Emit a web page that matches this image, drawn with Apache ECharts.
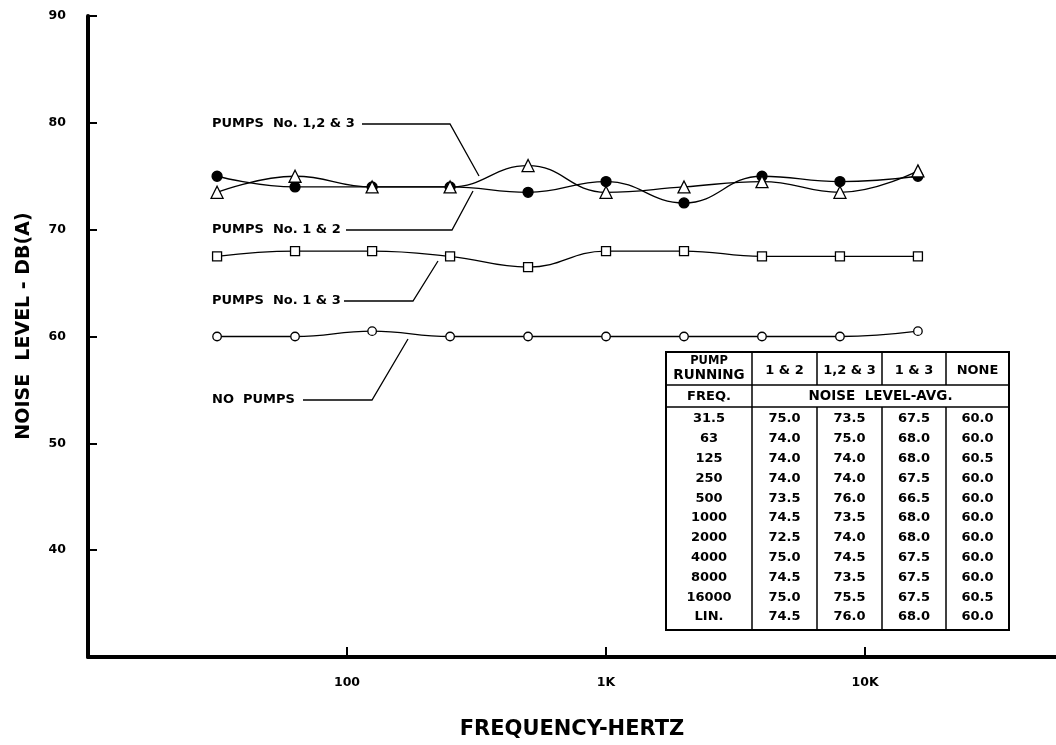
<!DOCTYPE html>
<html>
<head>
<meta charset="utf-8">
<script src="https://cdn.jsdelivr.net/npm/echarts@6/dist/echarts.min.js"></script>
<style>
  html, body { margin: 0; padding: 0; background: #fff; }
  #chart { width: 1056px; height: 745px; }
</style>
</head>
<body>
<div id="chart"></div>
<script>
// Octave band centre frequencies and the rows of the summary table
const bandLabels = ['31.5', '63', '125', '250', '500', '1000', '2000', '4000', '8000', '16000', 'LIN.'];
const bandHz = [31.5, 63, 125, 250, 500, 1000, 2000, 4000, 8000, 16000];

// Average noise level, dB(A), per band (last entry = linear / overall)
const pumps12 = [75.0, 74.0, 74.0, 74.0, 73.5, 74.5, 72.5, 75.0, 74.5, 75.0, 74.5];
const pumps123 = [73.5, 75.0, 74.0, 74.0, 76.0, 73.5, 74.0, 74.5, 73.5, 75.5, 76.0];
const pumps13 = [67.5, 68.0, 68.0, 67.5, 66.5, 68.0, 68.0, 67.5, 67.5, 67.5, 68.0];
const noPumps = [60.0, 60.0, 60.5, 60.0, 60.0, 60.0, 60.0, 60.0, 60.0, 60.5, 60.0];

// Axis ticks
const xTickValues = [100, 1000, 10000];
const xTickLabels = ['100', '1K', '10K'];
const yMin = 30, yMax = 90, yStep = 10;

// Table header text
const tableColumns = ['1 & 2', '1,2 & 3', '1 & 3', 'NONE'];

const FONT = '"DejaVu Sans", Verdana, sans-serif';

function bandPoints(values) {
  return bandHz.map((f, i) => [f, values[i]]);
}

const lineStyle = { color: '#000', width: 1.3 };
function seriesOf(name, values, symbol, size, fill) {
  return {
    name, type: 'line', smooth: 0.45, data: bandPoints(values),
    symbol, symbolSize: size, showSymbol: true,
    lineStyle,
    itemStyle: { color: fill, borderColor: '#000', borderWidth: 1.3 },
    emphasis: { disabled: true }, z: 3
  };
}

// ---- summary table drawn with graphic primitives ----
const colX = [666, 752, 817, 882, 946, 1009];
const tTop = 352, hdrBottom = 385, freqBottom = 407, tBottom = 630;
const firstRowY = 419, rowH = 19.8;
const table = [];
const ls = { stroke: '#000', lineWidth: 1.5 };
table.push({ type: 'rect', shape: { x: colX[0], y: tTop, width: colX[5] - colX[0], height: tBottom - tTop },
  style: { fill: '#fff', stroke: '#000', lineWidth: 2 }, z: 10 });
[hdrBottom, freqBottom].forEach(y => table.push({ type: 'line', shape: { x1: colX[0], y1: y, x2: colX[5], y2: y }, style: ls, z: 11 }));
for (let c = 1; c < 5; c++) {
  table.push({ type: 'line', shape: { x1: colX[c], y1: tTop, x2: colX[c], y2: hdrBottom }, style: ls, z: 11 });
  table.push({ type: 'line', shape: { x1: colX[c], y1: freqBottom, x2: colX[c], y2: tBottom }, style: ls, z: 11 });
}
table.push({ type: 'line', shape: { x1: colX[1], y1: hdrBottom, x2: colX[1], y2: freqBottom }, style: ls, z: 11 });
function cellText(text, cx, cy, size) {
  return { type: 'text', x: cx, y: cy, z: 12,
    style: { text, font: `bold ${size}px ${FONT}`, fill: '#000', align: 'center', verticalAlign: 'middle' } };
}
const mid = c => (colX[c] + colX[c + 1]) / 2;
table.push(cellText('PUMP', mid(0), 361, 11.5));
table.push(cellText('RUNNING', mid(0), 375, 13.5));
tableColumns.forEach((t, c) => table.push(cellText(t, mid(c + 1), 371, 13)));
table.push(cellText('FREQ.', mid(0), 396.5, 13));
table.push(cellText('NOISE  LEVEL-AVG.', (colX[1] + colX[5]) / 2, 396.5, 13.5));
const tableCols = [pumps12, pumps123, pumps13, noPumps];
bandLabels.forEach((lab, r) => {
  const y = firstRowY + r * rowH;
  table.push(cellText(lab, mid(0), y, 13));
  tableCols.forEach((vals, c) => table.push(cellText(vals[r].toFixed(1), mid(c + 1), y, 13)));
});

// ---- curve call-outs ----
function callout(text, tx, ty, pts) {
  return [
    { type: 'text', x: tx, y: ty, z: 12,
      style: { text, font: `bold 13px ${FONT}`, fill: '#000', verticalAlign: 'middle' } },
    { type: 'polyline', shape: { points: pts }, style: { stroke: '#000', lineWidth: 1.3, fill: null }, z: 12 }
  ];
}
const callouts = [].concat(
  callout('PUMPS  No. 1,2 & 3', 212, 124, [[362, 124], [450, 124], [479, 176]]),
  callout('PUMPS  No. 1 & 2', 212, 230, [[346, 230], [452, 230], [473, 191]]),
  callout('PUMPS  No. 1 & 3', 212, 301, [[344, 301], [413, 301], [438, 261]]),
  callout('NO  PUMPS', 212, 400, [[303, 400], [372, 400], [408, 339]])
);

// vertical axis title
const yTitle = { type: 'text', x: 24, y: 326, rotation: Math.PI / 2, z: 12,
  style: { text: 'NOISE  LEVEL - DB(A)', font: `bold 19px ${FONT}`, fill: '#000', align: 'center', verticalAlign: 'middle' } };

const chart = echarts.init(document.getElementById('chart'), null, { renderer: 'canvas' });
chart.setOption({
  animation: false,
  backgroundColor: '#fff',
  grid: { left: 88, right: 0, top: 16, bottom: 86 },
  xAxis: {
    type: 'log', logBase: 10, min: 10, max: 54600,
    name: 'FREQUENCY-HERTZ', nameLocation: 'middle', nameGap: 62,
    nameTextStyle: { fontFamily: FONT, fontWeight: 'bold', fontSize: 21, color: '#000' },
    axisLine: { show: true, onZero: false, lineStyle: { color: '#000', width: 4 } },
    axisTick: { show: true, inside: true, length: 10, customValues: xTickValues, lineStyle: { color: '#000', width: 2 } },
    axisLabel: {
      customValues: xTickValues, margin: 19, color: '#000',
      fontFamily: FONT, fontWeight: 'bold', fontSize: 12.5,
      formatter: v => { const i = xTickValues.indexOf(v); return i >= 0 ? xTickLabels[i] : ''; }
    },
    splitLine: { show: false }, minorTick: { show: false }
  },
  yAxis: {
    type: 'value', min: yMin, max: yMax, interval: yStep,
    axisLine: { show: true, lineStyle: { color: '#000', width: 4 } },
    axisTick: { show: true, inside: true, length: 9, lineStyle: { color: '#000', width: 2 } },
    axisLabel: {
      margin: 22, color: '#000', fontFamily: FONT, fontWeight: 'bold', fontSize: 12.5,
      formatter: v => (v === yMin ? '' : String(v))
    },
    splitLine: { show: false }
  },
  series: [
    seriesOf('PUMPS No. 1 & 2', pumps12, 'circle', 10, '#000'),
    seriesOf('PUMPS No. 1,2 & 3', pumps123, 'triangle', 12, '#fff'),
    seriesOf('PUMPS No. 1 & 3', pumps13, 'rect', 9, '#fff'),
    seriesOf('NO PUMPS', noPumps, 'circle', 8.5, '#fff')
  ],
  graphic: { elements: callouts.concat(table, [yTitle]) }
});
</script>
</body>
</html>
